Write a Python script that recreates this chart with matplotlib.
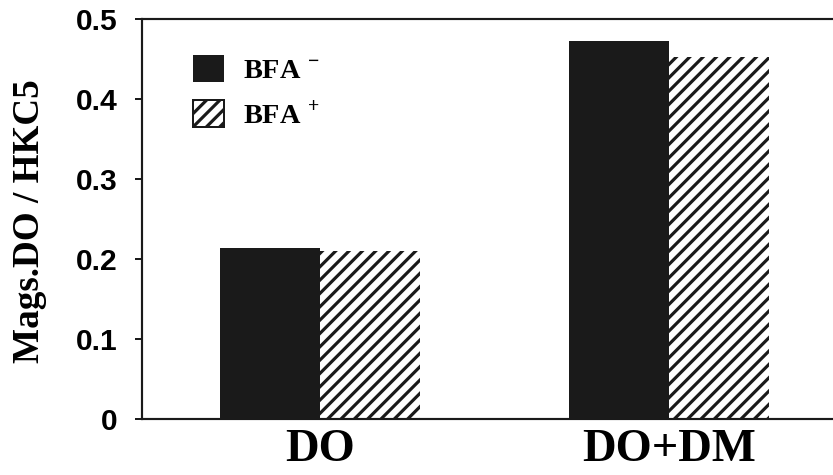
import numpy as np
import matplotlib
matplotlib.use("Agg")
import matplotlib.pyplot as plt

# ratio values per condition, without / with BFA
groups = ["DO", "DO+DM"]
bfa_minus = [0.214, 0.473]
bfa_plus = [0.210, 0.452]
series_labels = [r"BFA $^{-}$", r"BFA $^{+}$"]
ytick_vals = [0, 0.1, 0.2, 0.3, 0.4, 0.5]
ytick_labels = ["0", "0.1", "0.2", "0.3", "0.4", "0.5"]

DPI = 120
plt.rcParams["mathtext.fontset"] = "custom"
plt.rcParams["mathtext.rm"] = "Liberation Serif:bold"
plt.rcParams["mathtext.bf"] = "Liberation Serif:bold"
plt.rcParams["hatch.linewidth"] = 1.9

ink = "#1a1a1a"

fig = plt.figure(figsize=(833 / DPI, 475 / DPI), dpi=DPI)
ax = fig.add_axes([142 / 833, 1 - 419 / 475, 1 - 142 / 833, 400 / 475])

x = np.arange(len(groups))
w = 0.2865
ax.bar(x - w / 2, bfa_minus, w, color=ink, edgecolor=ink, linewidth=0,
       label=series_labels[0])
ax.bar(x + w / 2, bfa_plus, w, color="white", edgecolor=ink, linewidth=0,
       hatch="///", label=series_labels[1])

ax.set_xlim(-0.51, 1.47)
ax.set_ylim(0, 0.5)
ax.set_yticks(ytick_vals)
ax.set_yticklabels(ytick_labels, fontfamily="Liberation Sans",
                   fontweight="bold", fontsize=18)
ax.tick_params(axis="y", direction="out", length=4.2, width=1.2, pad=10.5,
               color=ink)
ax.set_xticks(x)
ax.set_xticklabels(groups, fontfamily="Liberation Serif", fontweight="bold",
                   fontsize=28)
ax.tick_params(axis="x", length=0, pad=6)

for side in ["left", "top", "bottom"]:
    ax.spines[side].set_linewidth(1.3)
    ax.spines[side].set_color(ink)
ax.spines["right"].set_visible(False)

ax.set_ylabel("Mags.DO / HKC5", fontfamily="Liberation Serif",
              fontweight="bold", fontsize=22.3)
ax.yaxis.set_label_coords(-0.138, 0.495)

leg = ax.legend(loc="upper left", bbox_to_anchor=(0.074, 0.91),
                frameon=False,
                prop={"family": "Liberation Serif", "weight": "bold", "size": 17},
                handlelength=1.1, handleheight=1.1, handletextpad=0.67,
                labelspacing=0.55, borderaxespad=0, borderpad=0)
# outline the hatched swatch
leg.legend_handles[1].set_linewidth(1.2)

fig.savefig("out.png", dpi=DPI)
